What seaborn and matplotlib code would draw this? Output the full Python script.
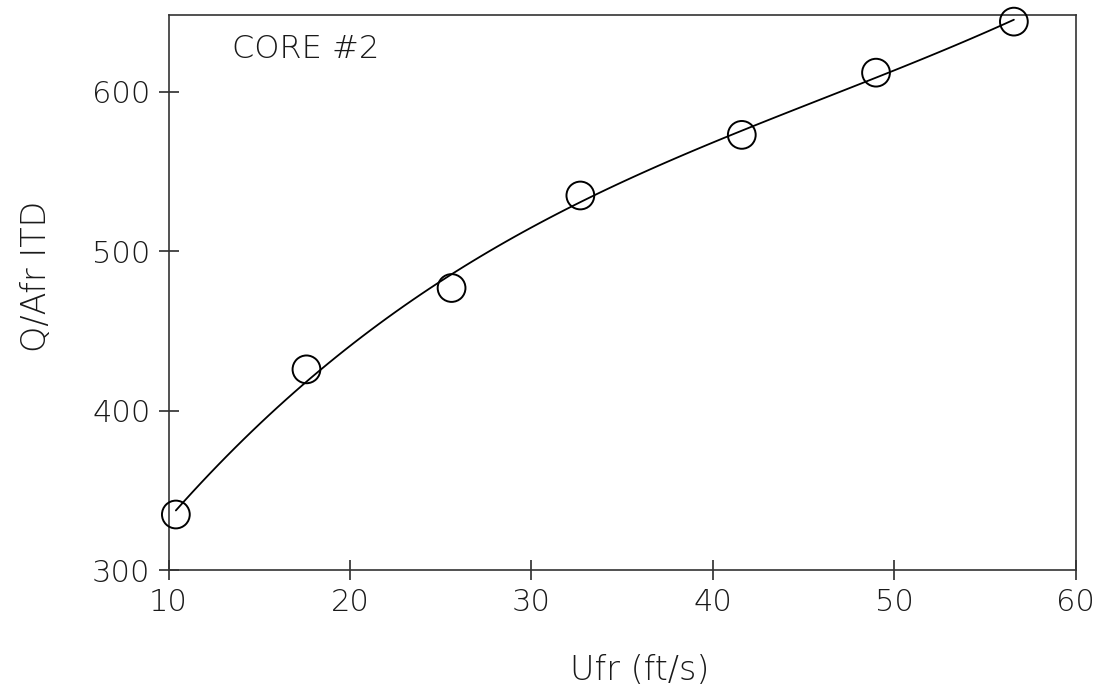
import numpy as np
import pandas as pd
import matplotlib
matplotlib.use("Agg")
import matplotlib.pyplot as plt
import seaborn as sns

# data
ufr = [10.4, 17.6, 25.6, 32.7, 41.6, 49.0, 56.6]
q_afr = [335, 426, 477, 535, 573, 612, 644]
x_ticks = [10, 20, 30, 40, 50, 60]
y_ticks = [300, 400, 500, 600]

df = pd.DataFrame({"Ufr": ufr, "Q": q_afr})

sns.set_style("white")
plt.rcParams["font.family"] = ["DejaVu Sans"]
plt.rcParams["font.weight"] = "light"

fig = plt.figure(figsize=(11.02, 6.93), dpi=100)
ax = fig.add_axes([0.153, 0.177, 0.823, 0.801])

# smooth fitted curve through the points
sns.regplot(data=df, x="Ufr", y="Q", order=3, ci=None, scatter=False,
            truncate=True, line_kws={"color": "black", "lw": 1.3}, ax=ax)
sns.scatterplot(data=df, x="Ufr", y="Q", s=400, facecolor="none",
                edgecolor="black", linewidth=1.4, zorder=3, clip_on=False, ax=ax)

ax.set_xlim(10, 60)
ax.set_ylim(300, 648)
ax.set_xticks(x_ticks)
ax.set_yticks(y_ticks)
ax.tick_params(bottom=True, left=True, direction="inout", length=14, width=1.1,
               labelsize=22, colors="#1a1a1a", pad=6)
for s in ax.spines.values():
    s.set_color("#333333")
    s.set_linewidth(1.2)

ax.set_xlabel("Ufr (ft/s)", fontsize=24, fontweight="light", color="#1a1a1a")
ax.xaxis.set_label_coords(0.52, -0.15)
ax.set_ylabel("Q/Afr ITD", fontsize=24, fontweight="light", color="#1a1a1a")
ax.yaxis.set_label_coords(-0.127, 0.53)
ax.text(13.5, 627, "CORE #2", fontsize=23, va="center", color="#1a1a1a")

fig.savefig("out.png", dpi=100)
